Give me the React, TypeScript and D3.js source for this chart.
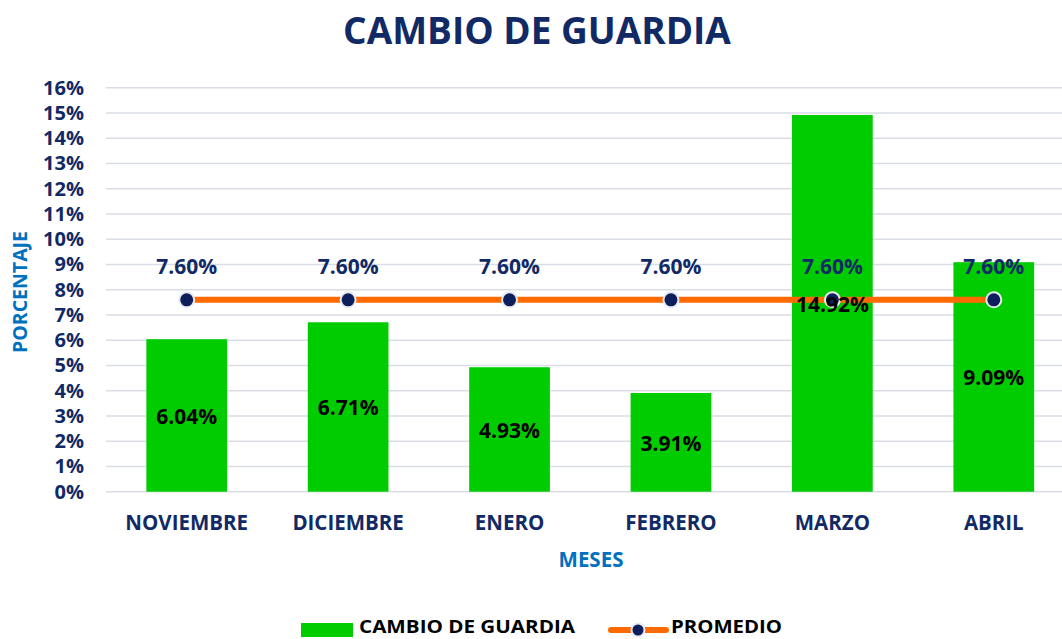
import React from "react";
import * as d3 from "d3";

const months = ["NOVIEMBRE", "DICIEMBRE", "ENERO", "FEBRERO", "MARZO", "ABRIL"];
const cambioValues = [6.04, 6.71, 4.93, 3.91, 14.92, 9.09];
const promedioValues = [7.6, 7.6, 7.6, 7.6, 7.6, 7.6];
const yTicks = [0, 1, 2, 3, 4, 5, 6, 7, 8, 9, 10, 11, 12, 13, 14, 15, 16];

const W = 1062;
const H = 639;
const FONT = "'Open Sans', 'Noto Sans', sans-serif";
const NAVY = "#112a66";
const BLUE = "#0070C0";
const GREEN = "#00CC00";
const ORANGE = "#FF6A00";
const MARKER = "#0c1f5c";

export default function App() {
  const x = d3.scaleBand<string>().domain(months).range([106, 1074.5]).paddingInner(0.5).paddingOuter(0.25);
  const y = d3.scaleLinear().domain([0, 16]).range([491.7, 87.7]);
  const cx = (m: string) => (x(m) ?? 0) + x.bandwidth() / 2;
  const line = d3
    .line<number>()
    .x((_, i) => cx(months[i]))
    .y((d) => y(d));

  return (
    <svg width={W} height={H} style={{ position: "absolute", left: 0, top: 0, background: "#fff" }}>
      <rect x={0} y={0} width={W} height={H} fill="#fff" />
      <text x={537} y={44} textAnchor="middle" fontFamily={FONT} fontWeight={700} fontSize={37} fill={NAVY}>
        CAMBIO DE GUARDIA
      </text>
      {yTicks.map((t) => (
        <g key={t}>
          <line x1={106} x2={1074.5} y1={y(t)} y2={y(t)} stroke="#d9dde6" strokeWidth={1.5} />
          <text x={84} y={y(t)} dy="0.35em" textAnchor="end" fontFamily={FONT} fontWeight={700} fontSize={20} fill={NAVY}>
            {t}%
          </text>
        </g>
      ))}
      {months.map((m, i) => (
        <rect key={m} x={x(m)} y={y(cambioValues[i])} width={x.bandwidth()} height={y(0) - y(cambioValues[i])} fill={GREEN} />
      ))}
      <path d={line(promedioValues) ?? ""} fill="none" stroke={ORANGE} strokeWidth={6} strokeLinecap="round" />
      {months.map((m, i) => (
        <circle key={m} cx={cx(m)} cy={y(promedioValues[i])} r={7.5} fill={MARKER} stroke="#e8eaf0" strokeWidth={2} />
      ))}
      {months.map((m, i) => (
        <text key={m} x={cx(m)} y={(y(cambioValues[i]) + y(0)) / 2 + 1} dy="0.35em" textAnchor="middle" fontFamily={FONT} fontWeight={700} fontSize={21} fill="#000">
          {cambioValues[i].toFixed(2)}%
        </text>
      ))}
      {months.map((m, i) => (
        <text key={m} x={cx(m)} y={y(promedioValues[i]) - 33} dy="0.35em" textAnchor="middle" fontFamily={FONT} fontWeight={700} fontSize={21} fill={NAVY}>
          {promedioValues[i].toFixed(2)}%
        </text>
      ))}
      {months.map((m) => (
        <text key={m} x={cx(m)} y={523} dy="0.35em" textAnchor="middle" fontFamily={FONT} fontWeight={700} fontSize={20.5} fill={NAVY}>
          {m}
        </text>
      ))}
      <text x={591} y={560} dy="0.35em" textAnchor="middle" fontFamily={FONT} fontWeight={700} fontSize={20.5} fill={BLUE}>
        MESES
      </text>
      <text transform="translate(20,292) rotate(-90)" dy="0.35em" textAnchor="middle" fontFamily={FONT} fontWeight={700} fontSize={19.5} fill={BLUE}>
        PORCENTAJE
      </text>
      <g>
        <rect x={301} y={623} width={52} height={14} fill={GREEN} />
        <text x={359} y={633.3} fontFamily={FONT} fontWeight={700} fontSize={18.5} textLength={216} lengthAdjust="spacingAndGlyphs" fill="#000">
          CAMBIO DE GUARDIA
        </text>
        <line x1={611} x2={666} y1={630} y2={630} stroke={ORANGE} strokeWidth={6} strokeLinecap="round" />
        <circle cx={638} cy={630} r={6.5} fill={MARKER} stroke="#e8eaf0" strokeWidth={2} />
        <text x={671} y={633.3} fontFamily={FONT} fontWeight={700} fontSize={18.5} textLength={111} lengthAdjust="spacingAndGlyphs" fill="#000">
          PROMEDIO
        </text>
      </g>
    </svg>
  );
}
